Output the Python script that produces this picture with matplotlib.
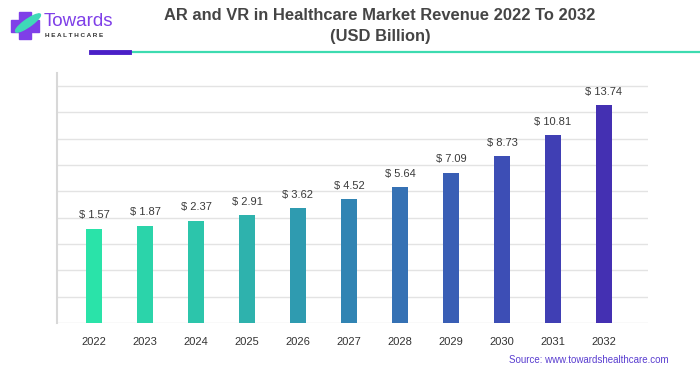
import numpy as np
import matplotlib
matplotlib.use("Agg")
import matplotlib.pyplot as plt
from matplotlib.colors import LinearSegmentedColormap
from matplotlib.patches import Rectangle, Ellipse, FancyBboxPatch
from matplotlib.lines import Line2D

years = ["2022", "2023", "2024", "2025", "2026", "2027", "2028", "2029", "2030", "2031", "2032"]
revenue = [1.57, 1.87, 2.37, 2.91, 3.62, 4.52, 5.64, 7.09, 8.73, 10.81, 13.74]
labels = [f"$ {v:.2f}" for v in revenue]
title = "AR and VR in Healthcare Market Revenue 2022 To 2032\n(USD Billion)"
source = "Source: www.towardshealthcare.com"

plt.rcParams['font.family'] = ['Liberation Sans', 'DejaVu Sans']

fig = plt.figure(figsize=(7, 3.75), dpi=100)
fig.patch.set_facecolor("white")
ax = fig.add_axes([57/700, 1-323/375, (648-57)/700, (323-73)/375])

ymin, ymax_grid = -7.71, 15.64
ytop = ymin + (ymax_grid - ymin) * (250/237)
ax.set_ylim(ymin, ytop)
ax.set_xlim(-0.725, len(years) - 1 + 0.863)

cmap = LinearSegmentedColormap.from_list("g", ["#2ae3a9", "#2dbdac", "#3184b3", "#3b55b6", "#4430b2"])
colors = [cmap(i / (len(years) - 1)) for i in range(len(years))]

x = np.arange(len(years))
heights = [v - ymin for v in revenue]
ax.bar(x, heights, bottom=ymin, width=0.314, color=colors, zorder=3)

for xi, v, lab in zip(x, revenue, labels):
    ax.annotate(lab, (xi, v), xytext=(0, 6), textcoords="offset points",
                ha="center", va="bottom", fontsize=8, color="#3a3a3a")

ax.set_yticks(np.linspace(ymin, ymax_grid, 10))
ax.set_yticklabels([])
ax.tick_params(axis="y", length=0)
ax.grid(axis="y", color="#e3e3e3", linewidth=1, zorder=0)
ax.set_xticks(x)
ax.set_xticklabels(years, fontsize=8, color="#333333")
ax.tick_params(axis="x", length=0, pad=10)
for s in ["top", "right", "bottom"]:
    ax.spines[s].set_visible(False)
ax.spines["left"].set_color("#d8d8d8")
ax.spines["left"].set_linewidth(1.5)

fig.text(380/700, 1-26/375, title, ha="center", va="center", fontsize=11.9,
         fontweight="bold", color="#454545", linespacing=1.45)

# header line
fig.add_artist(Line2D([129/700, 1.0], [1-51.7/375]*2, color="#3ddbb0", linewidth=1.6))
fig.add_artist(Line2D([91/700, 129/700], [1-51.5/375]*2, color="#4a1fc7", linewidth=3.5))

# logo
purple = "#7f3fe8"
fig.add_artist(Rectangle((11/700, 1-32/375), 28/700, 12/375, color=purple, transform=fig.transFigure))
fig.add_artist(Rectangle((19/700, 1-39/375), 12/700, 27/375, color=purple, transform=fig.transFigure))
fig.add_artist(Ellipse((28/700, 1-23/375), 10/700, 22/375, angle=-35, color="#3fd9b8", transform=fig.transFigure))
fig.text(44/700, 1-22/375, "Towards", fontsize=13.5, color=purple, va="center", ha="left")
fig.text(45/700, 1-35.5/375, "H E A L T H C A R E", fontsize=4.6, fontweight="bold",
         color="#333333", va="center", ha="left")

fig.text(669/700, 1-360/375, source, ha="right", va="center", fontsize=7, color="#5a3ed0")

fig.savefig("out.png", dpi=100, facecolor="white")
